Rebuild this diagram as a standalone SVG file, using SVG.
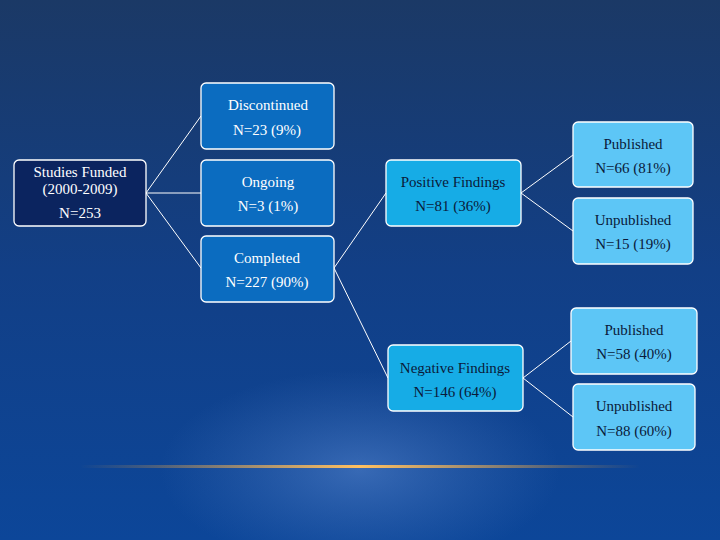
<svg xmlns="http://www.w3.org/2000/svg" width="720" height="540" viewBox="0 0 720 540">
<defs>
<linearGradient id="bg" x1="0" y1="0" x2="0" y2="1"><stop offset="0" stop-color="#1b3966"/><stop offset="0.5" stop-color="#123f86"/><stop offset="1" stop-color="#0c4699"/></linearGradient>
<radialGradient id="glow" cx="360" cy="470" r="200" gradientUnits="userSpaceOnUse" gradientTransform="translate(0,470) scale(1,0.5) translate(0,-470)"><stop offset="0" stop-color="#5a88d0" stop-opacity="0.55"/><stop offset="1" stop-color="#4a78c0" stop-opacity="0"/></radialGradient>
<linearGradient id="line" x1="0" y1="0" x2="1" y2="0"><stop offset="0" stop-color="#f0a030" stop-opacity="0"/><stop offset="0.5" stop-color="#ffc060"/><stop offset="1" stop-color="#f0a030" stop-opacity="0"/></linearGradient>
</defs>
<style>
.b rect{stroke:#fff;stroke-width:1.3}
.t{font-family:"Liberation Serif",serif;font-size:15px;text-anchor:middle}
.w{fill:#fff}.d{fill:#0a1a3a}
.c line{stroke:#fff;stroke-width:1}
</style>
<rect width="720" height="540" fill="url(#bg)"/>
<rect width="720" height="540" fill="url(#glow)"/>
<rect x="80" y="465" width="560" height="3" fill="url(#line)"/>
<g class="c">
<line x1="146" y1="193" x2="201" y2="116"/><line x1="146" y1="193" x2="201" y2="193"/><line x1="146" y1="193" x2="201" y2="268"/>
<line x1="334" y1="268" x2="386" y2="193"/><line x1="334" y1="268" x2="388" y2="378"/>
<line x1="521" y1="193" x2="573" y2="155"/><line x1="521" y1="193" x2="573" y2="231"/>
<line x1="523" y1="378" x2="571" y2="341"/><line x1="523" y1="378" x2="573" y2="417"/>
</g>
<g id="n0" class="b"><rect x="14" y="160" width="132" height="66" rx="5" fill="#0b245f"/><text class="t w" x="80" y="177">Studies Funded</text><text class="t w" x="80" y="194">(2000-2009)</text><text class="t w" x="80" y="218">N=253</text></g>
<g id="n1" class="b"><rect x="201" y="83" width="133" height="66" rx="5" fill="#0b6cc0"/><text class="t w" x="268" y="110">Discontinued</text><text class="t w" x="267" y="135">N=23 (9%)</text></g>
<g id="n2" class="b"><rect x="201" y="160" width="133" height="66" rx="5" fill="#0b6cc0"/><text class="t w" x="268" y="187">Ongoing</text><text class="t w" x="268" y="211">N=3 (1%)</text></g>
<g id="n3" class="b"><rect x="201" y="236" width="133" height="66" rx="5" fill="#0b6cc0"/><text class="t w" x="267" y="263">Completed</text><text class="t w" x="267" y="287">N=227 (90%)</text></g>
<g id="n4" class="b"><rect x="386" y="160" width="135" height="66" rx="5" fill="#16ace6"/><text class="t d" x="453" y="187">Positive Findings</text><text class="t d" x="453" y="211">N=81 (36%)</text></g>
<g id="n5" class="b"><rect x="388" y="345" width="135" height="66" rx="5" fill="#16ace6"/><text class="t d" x="455" y="373">Negative Findings</text><text class="t d" x="455" y="397">N=146 (64%)</text></g>
<g id="n6" class="b"><rect x="573" y="122" width="120" height="65" rx="5" fill="#5dc6f6"/><text class="t d" x="633" y="149">Published</text><text class="t d" x="633" y="173">N=66 (81%)</text></g>
<g id="n7" class="b"><rect x="573" y="198" width="120" height="66" rx="5" fill="#5dc6f6"/><text class="t d" x="633" y="225">Unpublished</text><text class="t d" x="633" y="249">N=15 (19%)</text></g>
<g id="n8" class="b"><rect x="571" y="308" width="126" height="66" rx="5" fill="#5dc6f6"/><text class="t d" x="634" y="335">Published</text><text class="t d" x="634" y="359">N=58 (40%)</text></g>
<g id="n9" class="b"><rect x="573" y="384" width="122" height="66" rx="5" fill="#5dc6f6"/><text class="t d" x="634" y="411">Unpublished</text><text class="t d" x="634" y="436">N=88 (60%)</text></g>
</svg>
